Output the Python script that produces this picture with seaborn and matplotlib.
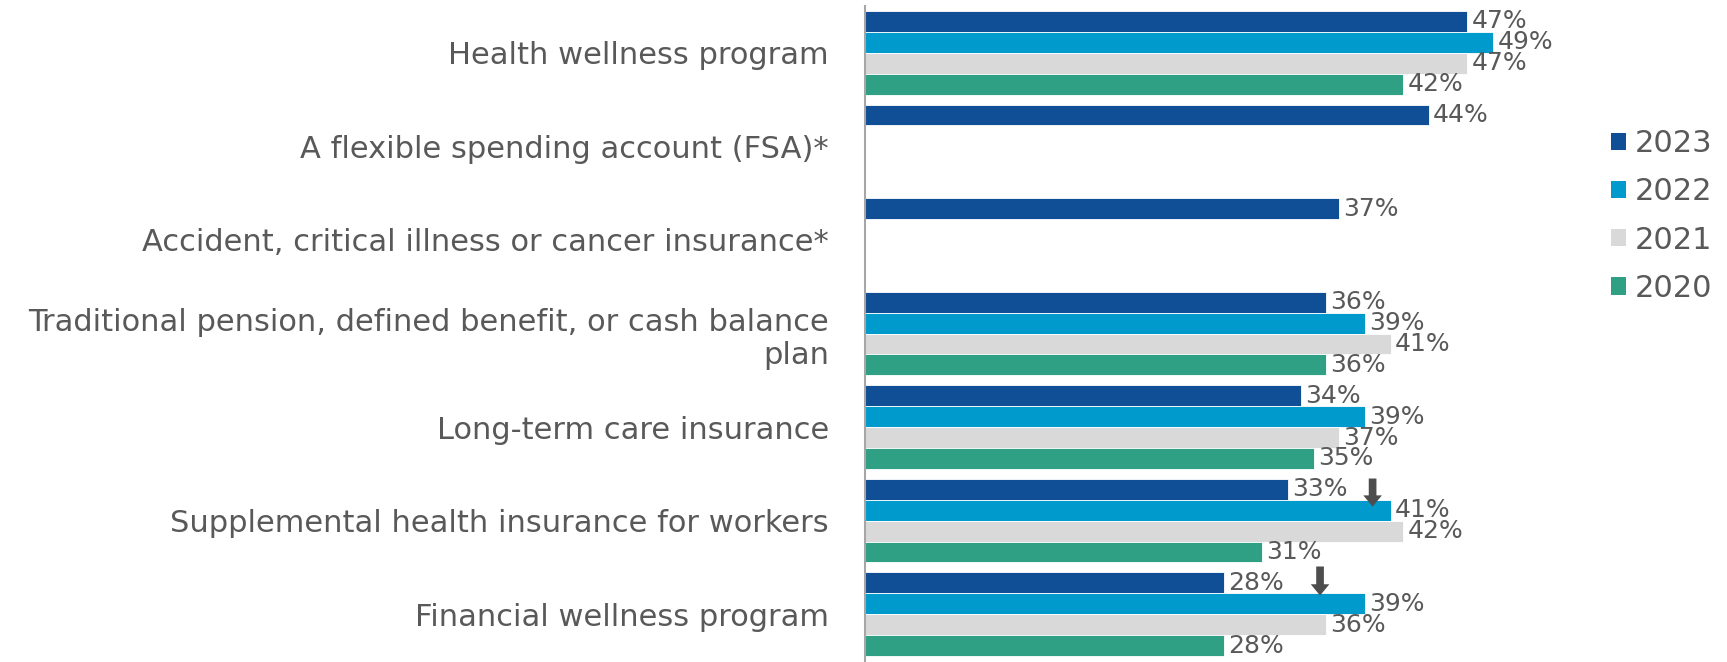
import numpy as np
import pandas as pd
import matplotlib
matplotlib.use("Agg")
import matplotlib.pyplot as plt
from matplotlib.patches import Patch, FancyArrow
import seaborn as sns

categories = [
    "Health wellness program",
    "A flexible spending account (FSA)*",
    "Accident, critical illness or cancer insurance*",
    "Traditional pension, defined benefit, or cash balance\nplan",
    "Long-term care insurance",
    "Supplemental health insurance for workers",
    "Financial wellness program",
]
years = ["2023", "2022", "2021", "2020"]
v2023 = [47, 44, 37, 36, 34, 33, 28]
v2022 = [49, np.nan, np.nan, 39, 39, 41, 39]
v2021 = [47, np.nan, np.nan, 41, 37, 42, 36]
v2020 = [42, np.nan, np.nan, 36, 35, 31, 28]
colors = ["#104E95", "#009ACD", "#D9D9D9", "#2FA084"]

# down arrows marking declines: (category index, x position, top, bottom)
arrow_cat = [5, 6]
arrow_x = [39.6, 35.5]
arrow_top = [-0.45, -0.51]
arrow_bot = [-0.15, -0.20]

sns.set_theme(style="white")
plt.rcParams["font.family"] = ["DejaVu Sans"]
text_color = "#595959"

rows = []
for yr, vals in zip(years, [v2023, v2022, v2021, v2020]):
    for c, v in zip(categories, vals):
        if not np.isnan(v):
            rows.append({"category": c, "year": yr, "value": v})
df = pd.DataFrame(rows)

fig = plt.figure(figsize=(17.27, 6.62), dpi=100)
ax = fig.add_axes([865 / 1727, 1 / 662, 705 / 1727, 655 / 662])

sns.barplot(data=df, y="category", x="value", hue="year", order=categories,
            hue_order=years, palette=colors, saturation=1, width=0.894, orient="h",
            edgecolor="white", linewidth=0.6, legend=False, ax=ax)

for cont in ax.containers:
    ax.bar_label(cont, fmt="%g%%", padding=3, color=text_color, fontsize=18)

for ci, x, t, b in zip(arrow_cat, arrow_x, arrow_top, arrow_bot):
    ax.add_patch(FancyArrow(x, ci + t, 0, b - t, width=0.6, head_width=1.45,
                            head_length=0.12, length_includes_head=True,
                            color="#4D4D4D", lw=0))

ax.set_xlim(0, 55)
ax.set_ylim(6.5, -0.5)
ax.set_xlabel("")
ax.set_ylabel("")
ax.set_xticks([])
ax.tick_params(axis="y", length=0, pad=26, labelsize=22, labelcolor=text_color)
for lbl in ax.get_yticklabels():
    lbl.set_horizontalalignment("right")
for s in ["top", "right", "bottom"]:
    ax.spines[s].set_visible(False)
ax.spines["left"].set_color("#A6A6A6")
ax.spines["left"].set_linewidth(1.5)

handles = [Patch(facecolor=c, edgecolor="none") for c in colors]
fig.legend(handles, years, loc="center left", bbox_to_anchor=(1583 / 1727, 1 - 216 / 662),
           frameon=False, fontsize=22, labelcolor=text_color, handlelength=0.5,
           handleheight=0.5, handletextpad=0.3, labelspacing=0.63)

fig.savefig("out.png", dpi=100)
